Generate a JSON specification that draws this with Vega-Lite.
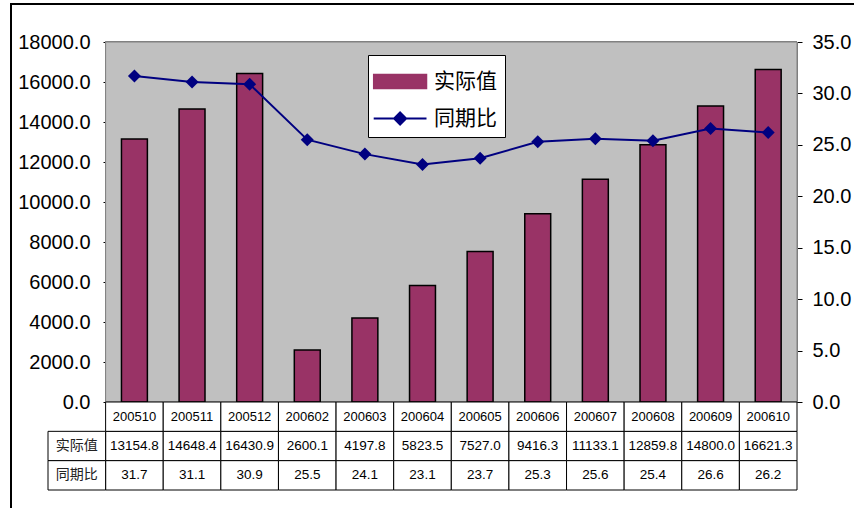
{
  "$schema": "https://vega.github.io/schema/vega-lite/v6.json",
  "autosize": {"type": "none"},
  "padding": {"left": 11, "top": 4, "right": 0, "bottom": 0},
  "width": 843,
  "height": 504,
  "background": "white",
  "config": {
    "view": {"stroke": "black", "strokeWidth": 2, "strokeDash": [843, 1347, 504]},
    "font": "Liberation Sans",
    "axis": {"grid": false}
  },
  "data": {
    "values": [
      {"cat": "200510", "实际值": 13154.8, "同期比": 31.7},
      {"cat": "200511", "实际值": 14648.4, "同期比": 31.1},
      {"cat": "200512", "实际值": 16430.9, "同期比": 30.9},
      {"cat": "200602", "实际值": 2600.1, "同期比": 25.5},
      {"cat": "200603", "实际值": 4197.8, "同期比": 24.1},
      {"cat": "200604", "实际值": 5823.5, "同期比": 23.1},
      {"cat": "200605", "实际值": 7527.0, "同期比": 23.7},
      {"cat": "200606", "实际值": 9416.3, "同期比": 25.3},
      {"cat": "200607", "实际值": 11133.1, "同期比": 25.6},
      {"cat": "200608", "实际值": 12859.8, "同期比": 25.4},
      {"cat": "200609", "实际值": 14800.0, "同期比": 26.6},
      {"cat": "200610", "实际值": 16621.3, "同期比": 26.2}
    ]
  },
  "layer": [
    {
      "layer": [
        {
          "mark": {"type": "rect", "fill": "#C0C0C0", "stroke": "#808080", "strokeWidth": 1},
          "encoding": {
            "x": {"datum": "200510", "type": "nominal", "bandPosition": 0, "axis": null,
              "scale": {"type": "band", "domain": ["label", "200510", "200511", "200512", "200602", "200603", "200604", "200605", "200606", "200607", "200608", "200609", "200610"], "range": [37, 786], "paddingInner": 0, "paddingOuter": 0}},
            "x2": {"datum": "200610", "bandPosition": 1},
            "y": {"datum": 18000, "type": "quantitative",
              "scale": {"domain": [0, 18000], "range": [398, 38], "nice": false},
              "axis": {"title": null, "orient": "left", "offset": -97, "values": [0, 2000, 4000, 6000, 8000, 10000, 12000, 14000, 16000, 18000], "format": ".1f", "labelFontSize": 20, "labelFont": "Liberation Sans", "labelColor": "black", "tickColor": "black", "domainColor": "black", "tickSize": 5, "labelPadding": 13, "grid": false}},
            "y2": {"datum": 0}
          }
        },
        {
          "mark": {"type": "bar", "width": {"band": 0.45}, "stroke": "black", "strokeWidth": 1.5},
          "encoding": {
            "x": {"field": "cat", "type": "nominal", "axis": null},
            "y": {"field": "实际值", "type": "quantitative"},
            "color": {"datum": "实际值",
              "scale": {"domain": ["实际值", "同期比"], "range": ["#993366", "#000080"]},
              "legend": {
                "title": " ", "titleFontSize": 4, "titlePadding": 4,
                "orient": "none", "legendX": 357, "legendY": 51,
                "padding": 8, "fillColor": "white", "strokeColor": "black",
                "labelFontSize": 21, "labelFont": "Noto Sans CJK SC", "labelColor": "black",
                "symbolSize": 256, "labelOffset": 37, "rowPadding": 15,
                "symbolType": {"expr": "datum.value === '实际值' ? 'M-1.6,-0.875H5V0.875H-1.6Z' : 'M-1.6,0H5M1.7,-0.75L2.45,0L1.7,0.75L0.95,0Z'"},
                "symbolFillColor": {"expr": "datum.value === '实际值' ? '#993366' : '#000080'"},
                "symbolStrokeColor": {"expr": "datum.value === '实际值' ? 'black' : '#000080'"},
                "symbolStrokeWidth": {"expr": "datum.value === '实际值' ? 1.5 : 2"},
                "symbolOpacity": 1
              }
            }
          }
        }
      ]
    },
    {
      "layer": [
        {
          "mark": {"type": "line", "strokeWidth": 2},
          "encoding": {
            "x": {"field": "cat", "type": "nominal", "axis": null},
            "y": {"field": "同期比", "type": "quantitative",
              "scale": {"domain": [0, 35], "range": [398, 38], "nice": false},
              "axis": {"title": null, "orient": "right", "offset": -57, "values": [0, 5, 10, 15, 20, 25, 30, 35], "format": ".1f", "labelFontSize": 20, "labelFont": "Liberation Sans", "labelColor": "black", "tickColor": "black", "domainColor": "black", "tickSize": 5, "labelPadding": 10, "grid": false}},
            "color": {"datum": "同期比"}
          }
        },
        {
          "mark": {"type": "point", "shape": "diamond", "filled": true, "size": 169, "opacity": 1},
          "encoding": {
            "x": {"field": "cat", "type": "nominal", "axis": null},
            "y": {"field": "同期比", "type": "quantitative"},
            "color": {"datum": "同期比"}
          }
        }
      ]
    },
    {
      "layer": [
        {
          "transform": [{"fold": ["实际值", "同期比"], "as": ["row", "value"]}],
          "layer": [
            {
              "mark": {"type": "rect", "fill": "white", "stroke": "black", "strokeWidth": 1},
              "encoding": {
                "x": {"field": "cat", "type": "nominal", "axis": null},
                "y": {"field": "row", "type": "nominal", "axis": null,
                  "scale": {"type": "band", "domain": ["cat", "实际值", "同期比"], "range": [398, 486], "paddingInner": 0, "paddingOuter": 0}}
              }
            },
            {
              "mark": {"type": "text", "fontSize": 13.5, "font": "Liberation Sans", "color": "black"},
              "encoding": {
                "x": {"field": "cat", "type": "nominal", "axis": null},
                "y": {"field": "row", "type": "nominal", "axis": null},
                "text": {"field": "value", "type": "quantitative", "format": ".1f"}
              }
            }
          ]
        },
        {
          "layer": [
            {
              "mark": {"type": "rect", "fill": "white", "stroke": "black", "strokeWidth": 1},
              "encoding": {
                "x": {"field": "cat", "type": "nominal", "axis": null},
                "y": {"datum": "cat", "type": "nominal", "axis": null}
              }
            },
            {
              "mark": {"type": "text", "fontSize": 13, "font": "Liberation Sans", "color": "black"},
              "encoding": {
                "x": {"field": "cat", "type": "nominal", "axis": null},
                "y": {"datum": "cat", "type": "nominal", "axis": null},
                "text": {"field": "cat", "type": "nominal"}
              }
            }
          ]
        },
        {
          "data": {"values": [{"row": "实际值"}, {"row": "同期比"}]},
          "layer": [
            {
              "mark": {"type": "rect", "fill": "white", "stroke": "black", "strokeWidth": 1},
              "encoding": {
                "x": {"datum": "label", "type": "nominal", "axis": null},
                "y": {"field": "row", "type": "nominal", "axis": null}
              }
            },
            {
              "mark": {"type": "text", "fontSize": 14, "font": "Noto Sans CJK SC", "color": "#222"},
              "encoding": {
                "x": {"datum": "label", "type": "nominal", "axis": null},
                "y": {"field": "row", "type": "nominal", "axis": null},
                "text": {"field": "row", "type": "nominal"}
              }
            }
          ]
        }
      ]
    }
  ],
  "resolve": {"scale": {"y": "independent"}}
}
